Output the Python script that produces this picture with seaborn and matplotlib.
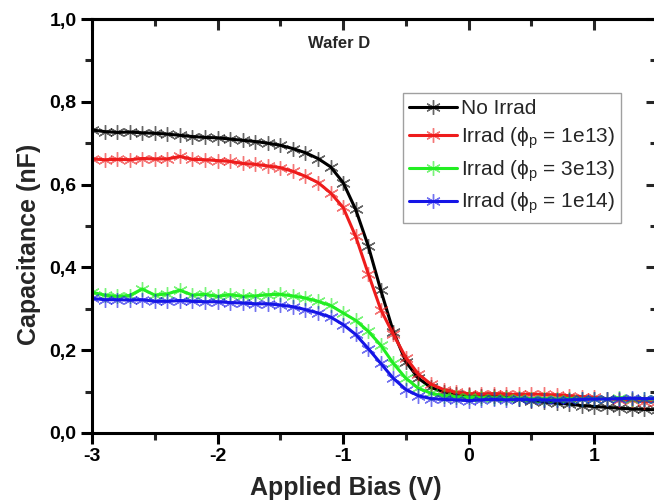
import numpy as np
import pandas as pd
import matplotlib
matplotlib.use("Agg")
import matplotlib.pyplot as plt
from matplotlib.ticker import MultipleLocator, FuncFormatter
from matplotlib.colors import to_rgba
import seaborn as sns

# ---------------- data ----------------
bias = [round(-3.0 + 0.1 * i, 1) for i in range(46)]

no_irrad = [0.732, 0.728, 0.726, 0.727, 0.725, 0.724, 0.722, 0.719, 0.716, 0.714,
            0.713, 0.710, 0.707, 0.704, 0.700, 0.695, 0.687, 0.677, 0.663, 0.643,
            0.605, 0.540, 0.452, 0.345, 0.245, 0.172, 0.132, 0.110, 0.100, 0.094,
            0.092, 0.090, 0.089, 0.086, 0.082, 0.078, 0.075, 0.072, 0.070, 0.066,
            0.064, 0.062, 0.060, 0.058, 0.057, 0.056]
irrad_1e13 = [0.662, 0.660, 0.661, 0.660, 0.663, 0.662, 0.662, 0.668, 0.661, 0.660,
              0.658, 0.656, 0.651, 0.649, 0.645, 0.641, 0.632, 0.620, 0.605, 0.580,
              0.545, 0.475, 0.385, 0.298, 0.238, 0.182, 0.142, 0.118, 0.105, 0.098,
              0.095, 0.094, 0.095, 0.094, 0.093, 0.094, 0.093, 0.092, 0.090, 0.088,
              0.086, 0.083, 0.080, 0.079, 0.076, 0.075]
irrad_3e13 = [0.340, 0.333, 0.330, 0.332, 0.348, 0.333, 0.336, 0.345, 0.333, 0.335,
              0.330, 0.334, 0.330, 0.331, 0.334, 0.335, 0.331, 0.326, 0.318, 0.308,
              0.290, 0.272, 0.246, 0.212, 0.168, 0.132, 0.108, 0.096, 0.090, 0.087,
              0.086, 0.085, 0.085, 0.084, 0.084, 0.083, 0.083, 0.082, 0.083, 0.082,
              0.083, 0.082, 0.085, 0.083, 0.082, 0.082]
irrad_1e14 = [0.325, 0.322, 0.322, 0.321, 0.322, 0.318, 0.318, 0.320, 0.318, 0.317,
              0.317, 0.315, 0.314, 0.312, 0.312, 0.309, 0.305, 0.298, 0.290, 0.280,
              0.262, 0.238, 0.204, 0.168, 0.132, 0.105, 0.090, 0.083, 0.081, 0.080,
              0.078, 0.080, 0.081, 0.080, 0.081, 0.080, 0.080, 0.079, 0.080, 0.081,
              0.082, 0.082, 0.083, 0.084, 0.083, 0.083]

series_labels = ["No Irrad",
                 r"Irrad ($\phi_\mathregular{p}$ = 1e13)",
                 r"Irrad ($\phi_\mathregular{p}$ = 3e13)",
                 r"Irrad ($\phi_\mathregular{p}$ = 1e14)"]
series_values = [no_irrad, irrad_1e13, irrad_3e13, irrad_1e14]
series_colors = ["#000000", "#ee1c1c", "#22ee22", "#1515e6"]

x_ticks = [-3, -2, -1, 0, 1]
y_ticks = [0.0, 0.2, 0.4, 0.6, 0.8, 1.0]

# ---------------- style ----------------
sns.set_style("ticks")
plt.rcParams["font.family"] = ["Liberation Sans", "DejaVu Sans"]
plt.rcParams["mathtext.fontset"] = "custom"
plt.rcParams["mathtext.rm"] = "Liberation Sans"
plt.rcParams["mathtext.it"] = "Liberation Sans"
plt.rcParams["mathtext.bf"] = "Liberation Sans:bold"

fig = plt.figure(figsize=(6.54, 5.04), dpi=100)
ax = fig.add_axes([92 / 654, (504 - 433) / 504, 565 / 654, 414 / 504])

for vals, lab, col in zip(series_values, series_labels, series_colors):
    sns.lineplot(x=bias, y=vals, ax=ax, color=col, lw=2.2, label=lab,
                 marker=(6, 2, 0), markersize=10.5,
                 markeredgecolor=to_rgba(col, 0.6), markeredgewidth=1.0,
                 sort=False, legend=False, errorbar=None)

ax.set_xlim(-3, 1.5)
ax.set_ylim(0, 1.0)

ax.set_xticks(x_ticks)
ax.set_yticks(y_ticks)
ax.xaxis.set_minor_locator(MultipleLocator(0.5))
ax.yaxis.set_minor_locator(MultipleLocator(0.1))
ax.yaxis.set_major_formatter(FuncFormatter(lambda v, p: f"{v:.1f}".replace(".", ",")))
ax.xaxis.set_major_formatter(FuncFormatter(lambda v, p: f"{v:.0f}"))

for sp in ax.spines.values():
    sp.set_linewidth(2.2)
    sp.set_color("black")

ax.tick_params(which="major", direction="out", length=8, width=2.2, labelsize=14,
               colors="black", pad=3)
ax.tick_params(which="minor", direction="out", length=5, width=2.2)
for t in ax.get_xticklabels() + ax.get_yticklabels():
    t.set_fontweight("bold")

# top / right inward ticks
sx = ax.secondary_xaxis("top")
sx.set_xticks(x_ticks)
sx.xaxis.set_minor_locator(MultipleLocator(0.5))
sx.tick_params(which="major", direction="in", length=8, width=2.2, labeltop=False)
sx.tick_params(which="minor", direction="in", length=5, width=2.2)
sx.spines["top"].set_linewidth(2.2)
sy = ax.secondary_yaxis("right")
sy.set_yticks(y_ticks)
sy.yaxis.set_minor_locator(MultipleLocator(0.1))
sy.tick_params(which="major", direction="in", length=8, width=2.2, labelright=False)
sy.tick_params(which="minor", direction="in", length=5, width=2.2)

ax.set_xlabel("Applied Bias (V)", fontsize=18, fontweight="bold")
ax.set_ylabel("Capacitance (nF)", fontsize=18, fontweight="bold")
ax.xaxis.set_label_coords(0.45, -0.105)
ax.yaxis.set_label_coords(-0.09, 0.455)

ax.text(-1.03, 0.94, "Wafer D", fontsize=12, fontweight="bold", ha="center", va="center")

leg = ax.legend(loc="upper left", bbox_to_anchor=(0.55, 0.822), fontsize=15,
                frameon=True, fancybox=False, edgecolor="#888888",
                handlelength=2.3, handletextpad=0.2, borderpad=0.3,
                labelspacing=0.35, borderaxespad=0)
leg.get_frame().set_linewidth(1.0)

fig.savefig("out.png", dpi=100)
